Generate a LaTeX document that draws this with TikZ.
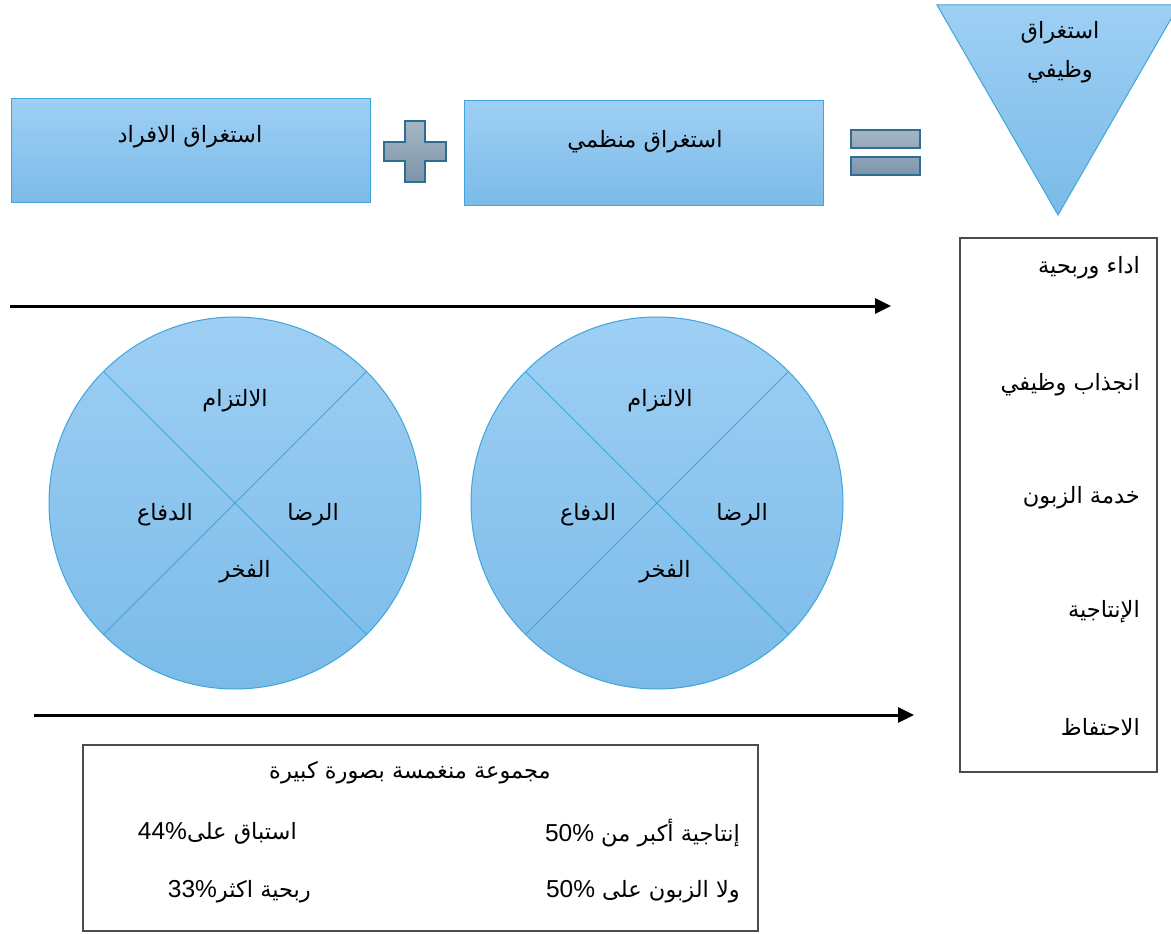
\documentclass[tikz,border=0pt]{standalone}
\usepackage{fontspec}
\setmainfont{Liberation Sans}
\newfontfamily\arabicfont[Script=Arabic]{DejaVu Sans}
\TeXXeTstate=1
\usetikzlibrary{arrows.meta,shapes.geometric}
\newcommand{\artext}[1]{\arabicfont\beginR #1\endR}
\newcommand{\latnum}[1]{\beginL{\normalfont\fontsize{24.5}{28}\selectfont #1}\endL}
\definecolor{bluetop}{HTML}{9ECFF4}
\definecolor{bluebot}{HTML}{7BBBE8}
\definecolor{blueedge}{HTML}{3FA5DA}
\definecolor{greytop}{HTML}{A6B6C5}
\definecolor{greybot}{HTML}{7D94A9}
\definecolor{greyedge}{HTML}{2F6E93}
\tikzset{
  bluebox/.style={draw=blueedge, line width=1pt, top color=bluetop, bottom color=bluebot, rectangle, inner sep=0pt},
  greyshape/.style={draw=greyedge, line width=1.1pt, top color=greytop, bottom color=greybot},
  bluecirc/.style={draw=blueedge, line width=1pt, top color=bluetop, bottom color=bluebot, circle, minimum size=372pt, inner sep=0pt},
  lbl/.style={font=\fontsize{22.5}{27}\selectfont, inner sep=0pt},
  arrowline/.style={line width=3pt, -{Triangle[length=16pt,width=15pt]}},
  plainbox/.style={draw=black!70, line width=1.2pt, rectangle, inner sep=0pt, fill=white},
}
\begin{document}
\begin{tikzpicture}[x=1pt,y=-1pt]
\useasboundingbox (0,0) rectangle (1171,934);
% top boxes
\node[bluebox, minimum width=359pt, minimum height=103pt] (b1) at (190.5,150.5) {};
\node[lbl] (b1t) at (190,137) {\artext{استغراق الافراد}};
\node[bluebox, minimum width=359pt, minimum height=104pt] (b2) at (643.5,153) {};
\node[lbl] (b2t) at (645,142) {\artext{استغراق منظمي}};
% plus
\path[greyshape] (405,121) -- (425,121) -- (425,142) -- (446,142) -- (446,161) -- (425,161) -- (425,182) -- (405,182) -- (405,161) -- (384,161) -- (384,142) -- (405,142) -- cycle;
% equals
\node[greyshape, rectangle, minimum width=69pt, minimum height=18pt, inner sep=0pt, top color=greytop, bottom color=greytop!55!greybot] (eq1) at (885.5,139) {};
\node[greyshape, rectangle, minimum width=69pt, minimum height=18pt, inner sep=0pt, top color=greytop!45!greybot, bottom color=greybot] (eq2) at (885.5,166) {};
% triangle
\path[draw=blueedge, line width=1pt, top color=bluetop, bottom color=bluebot] (937,5) -- (1179,5) -- (1058,215) -- cycle;
\node[lbl] (t1) at (1060,33) {\artext{استغراق}};
\node[lbl] (t2) at (1060,72) {\artext{وظيفي}};
% right box
\node[plainbox, minimum width=197pt, minimum height=534pt] (rb) at (1058.5,505) {};
\node[lbl, anchor=east] (r1) at (1140,268) {\artext{اداء وربحية}};
\node[lbl, anchor=east] (r2) at (1140,385) {\artext{انجذاب وظيفي}};
\node[lbl, anchor=east] (r3) at (1140,498) {\artext{خدمة الزبون}};
\node[lbl, anchor=east] (r4) at (1140,612) {\artext{الإنتاجية}};
\node[lbl, anchor=east] (r5) at (1140,727) {\artext{الاحتفاظ}};
% arrows
\coordinate (a1s) at (10,306);
\coordinate (a1e) at (891,306);
\draw[arrowline] (a1s) -- (a1e);
\coordinate (a2s) at (34,715);
\coordinate (a2e) at (914,715);
\draw[arrowline] (a2s) -- (a2e);
% circles
\node[bluecirc] (c1) at (235,503) {};
\draw[blueedge, line width=1pt] (c1.135) -- (c1.-45);
\draw[blueedge, line width=1pt] (c1.45) -- (c1.-135);
\node[lbl] (c1a) at (235,401) {\artext{الالتزام}};
\node[lbl] (c1b) at (165,515) {\artext{الدفاع}};
\node[lbl] (c1c) at (313,515) {\artext{الرضا}};
\node[lbl] (c1d) at (245,572) {\artext{الفخر}};
\node[bluecirc] (c2) at (657,503) {};
\draw[blueedge, line width=1pt] (c2.135) -- (c2.-45);
\draw[blueedge, line width=1pt] (c2.45) -- (c2.-135);
\node[lbl] (c2a) at (660,401) {\artext{الالتزام}};
\node[lbl] (c2b) at (588,515) {\artext{الدفاع}};
\node[lbl] (c2c) at (742,515) {\artext{الرضا}};
\node[lbl] (c2d) at (665,572) {\artext{الفخر}};
% bottom box
\node[plainbox, minimum width=675pt, minimum height=186pt] (bb) at (420.5,838) {};
\node[lbl] (bt) at (410,773) {\artext{مجموعة منغمسة بصورة كبيرة}};
\node[lbl, anchor=east] (bb1) at (740,833) {\artext{إنتاجية أكبر من \latnum{50\%}}};
\node[lbl, anchor=east] (bb2) at (740,892) {\artext{ولا الزبون على \latnum{50\%}}};
\node[lbl, anchor=east] (bb3) at (297,833) {\artext{استباق على\latnum{44\%}}};
\node[lbl, anchor=east] (bb4) at (311,892) {\artext{ربحية اكثر\latnum{33\%}}};
\end{tikzpicture}
\end{document}
